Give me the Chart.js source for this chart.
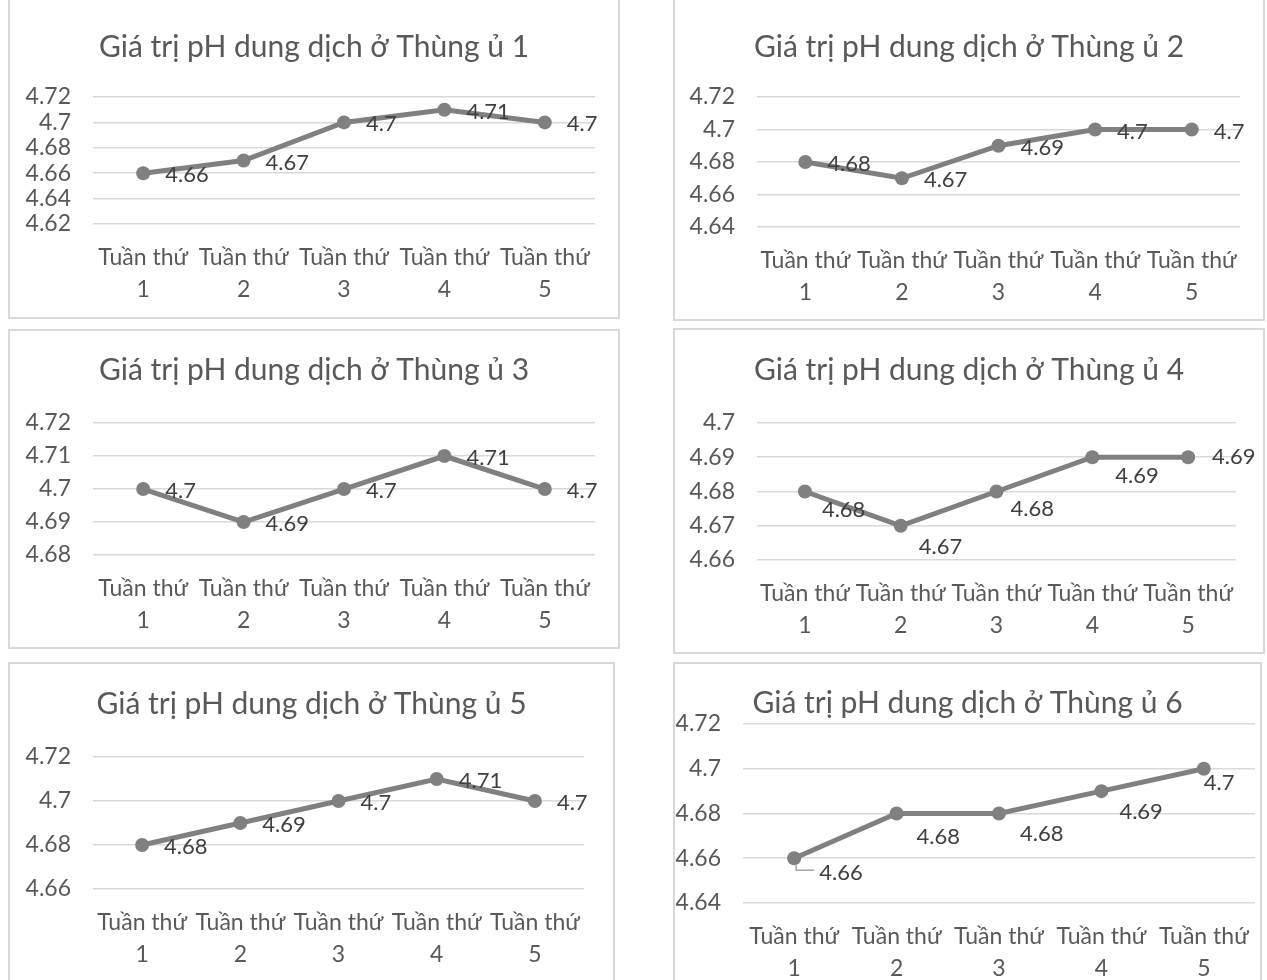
<!DOCTYPE html>
<html>
<head>
<meta charset="utf-8">
<script src="https://cdn.jsdelivr.net/npm/chart.js@4.4.1/dist/chart.umd.min.js"></script>
<style>
  html, body { margin: 0; padding: 0; background: #fff; }
  body { width: 1267px; height: 980px; position: relative; overflow: hidden; }
  .panel { position: absolute; }
  .frame { position: absolute; box-sizing: border-box; border: 2px solid #d9d9d9; pointer-events: none; }
</style>
</head>
<body>
<script>
// categories shared by all six charts
const weeks = [['Tuần thứ', '1'], ['Tuần thứ', '2'], ['Tuần thứ', '3'], ['Tuần thứ', '4'], ['Tuần thứ', '5']];

// chart titles
const titles = [
    'Giá trị pH dung dịch ở Thùng ủ 1',
    'Giá trị pH dung dịch ở Thùng ủ 2',
    'Giá trị pH dung dịch ở Thùng ủ 3',
    'Giá trị pH dung dịch ở Thùng ủ 4',
    'Giá trị pH dung dịch ở Thùng ủ 5',
    'Giá trị pH dung dịch ở Thùng ủ 6'
];

// pH values per bin
const ph1 = [4.66, 4.67, 4.70, 4.71, 4.70];
const ph2 = [4.68, 4.67, 4.69, 4.70, 4.70];
const ph3 = [4.70, 4.69, 4.70, 4.71, 4.70];
const ph4 = [4.68, 4.67, 4.68, 4.69, 4.69];
const ph5 = [4.68, 4.69, 4.70, 4.71, 4.70];
const ph6 = [4.66, 4.68, 4.68, 4.69, 4.70];

// y axis tick values per chart
const yTicks1 = [4.62, 4.64, 4.66, 4.68, 4.70, 4.72];
const yTicks2 = [4.64, 4.66, 4.68, 4.70, 4.72];
const yTicks3 = [4.68, 4.69, 4.70, 4.71, 4.72];
const yTicks4 = [4.66, 4.67, 4.68, 4.69, 4.70];
const yTicks5 = [4.66, 4.68, 4.70, 4.72];
const yTicks6 = [4.64, 4.66, 4.68, 4.70, 4.72];

// page layout of every panel: frame box, plot area, title centre line
const layouts = [
    { box: { l: 8, t: -20, r: 620, b: 319 }, area: { l: 93, r: 595, t: 97, b: 224 }, titleY: 47 },
    { box: { l: 673, t: -20, r: 1265, b: 321 }, area: { l: 757, r: 1240, t: 97, b: 227 }, titleY: 47 },
    { box: { l: 8, t: 329, r: 620, b: 649 }, area: { l: 93, r: 595, t: 423, b: 555 }, titleY: 370 },
    { box: { l: 673, t: 328, r: 1265, b: 654 }, area: { l: 757, r: 1236, t: 423, b: 560 }, titleY: 370 },
    { box: { l: 8, t: 662, r: 615, b: 1000 }, area: { l: 93, r: 584, t: 757, b: 889 }, titleY: 704 },
    { box: { l: 673, t: 662, r: 1262, b: 1000 }, area: { l: 743, r: 1260, t: 724, b: 903 }, titleY: 703 }
];

// where the value labels sit relative to their points
const defaultOffset = [22, 2];
const labelOffsets = [
    null,
    null,
    null,
    [[17, 18], [18, 21], [14, 17], [23, 19], [24, 0]],
    null,
    [[25, 15], [20, 23], [21, 20], [18, 21], [0, 14]]
];
const leaders = [null, null, null, null, null, [0]];

const FONT = 'Lato, "Open Sans", sans-serif';
const TEXT = '#595959';

// draws the value next to each point, like Excel data labels
const valueLabels = {
    id: 'valueLabels',
    afterDatasetsDraw(chart, args, opts) {
        const ctx = chart.ctx;
        const meta = chart.getDatasetMeta(0);
        const values = chart.data.datasets[0].data;
        ctx.save();
        ctx.font = '22px ' + FONT;
        ctx.fillStyle = '#404040';
        ctx.textAlign = 'left';
        ctx.textBaseline = 'middle';
        meta.data.forEach((pt, i) => {
            const off = opts.offsets ? opts.offsets[i] : defaultOffset;
            const tx = pt.x + off[0];
            const ty = pt.y + off[1];
            if (opts.leaders && opts.leaders.includes(i)) {
                ctx.strokeStyle = '#a6a6a6';
                ctx.lineWidth = 1.5;
                ctx.beginPath();
                ctx.moveTo(pt.x + 2, pt.y + 6);
                ctx.lineTo(pt.x + 2, ty - 3);
                ctx.lineTo(tx - 5, ty - 3);
                ctx.stroke();
            }
            ctx.fillText(String(parseFloat(values[i].toFixed(2))), tx, ty);
        });
        ctx.restore();
    }
};

function makeChart(idx, values, ticks) {
    const lay = layouts[idx];
    const box = lay.box, area = lay.area;
    const w = box.r - box.l, h = box.b - box.t;

    const panel = document.createElement('div');
    panel.className = 'panel';
    panel.style.left = box.l + 'px';
    panel.style.top = box.t + 'px';
    panel.style.width = w + 'px';
    panel.style.height = h + 'px';
    const canvas = document.createElement('canvas');
    canvas.width = w;
    canvas.height = h;
    panel.appendChild(canvas);
    document.body.appendChild(panel);

    const frame = document.createElement('div');
    frame.className = 'frame';
    frame.style.left = box.l + 'px';
    frame.style.top = box.t + 'px';
    frame.style.width = w + 'px';
    frame.style.height = h + 'px';
    document.body.appendChild(frame);

    const titleSize = 30;
    const titleLine = 36;
    const topPad = lay.titleY - box.t - titleLine / 2;
    const titleGap = (area.t - box.t) - topPad - titleLine;

    new Chart(canvas, {
        type: 'line',
        data: {
            labels: weeks,
            datasets: [{
                data: values,
                borderColor: '#808080',
                backgroundColor: '#808080',
                borderWidth: 5,
                pointRadius: 7,
                pointHoverRadius: 7,
                pointBackgroundColor: '#808080',
                pointBorderWidth: 0,
                tension: 0
            }]
        },
        options: {
            responsive: false,
            animation: false,
            devicePixelRatio: 1,
            layout: { padding: { left: 0, top: topPad, right: 0, bottom: 0 } },
            plugins: {
                legend: { display: false },
                tooltip: { enabled: false },
                title: {
                    display: true,
                    text: titles[idx],
                    color: TEXT,
                    font: { family: FONT, size: titleSize, weight: 'normal', lineHeight: titleLine / titleSize },
                    padding: { top: 0, bottom: titleGap }
                },
                valueLabels: { offsets: labelOffsets[idx], leaders: leaders[idx] }
            },
            scales: {
                x: {
                    offset: true,
                    grid: { display: false, drawTicks: false },
                    border: { display: false },
                    ticks: {
                        color: TEXT,
                        font: { family: FONT, size: 23, lineHeight: 32 / 23 },
                        padding: 18,
                        maxRotation: 0,
                        autoSkip: false
                    },
                    afterFit(scale) {
                        scale.height = box.b - area.b;
                        scale.paddingLeft = 0;
                        scale.paddingRight = 0;
                    }
                },
                y: {
                    min: ticks[0],
                    max: ticks[ticks.length - 1],
                    grid: { color: '#d9d9d9', lineWidth: 1.5, drawTicks: false },
                    border: { display: false },
                    ticks: {
                        color: TEXT,
                        font: { family: FONT, size: 23 },
                        padding: 22,
                        autoSkip: false,
                        callback: v => String(parseFloat(v.toFixed(2)))
                    },
                    afterBuildTicks(scale) {
                        scale.ticks = ticks.map(v => ({ value: v }));
                    },
                    afterFit(scale) {
                        scale.width = area.l - box.l;
                        scale.paddingTop = 0;
                        scale.paddingBottom = 0;
                    }
                },
                // empty right-hand axis: reserves the gap right of the plot
                // so the full-width title stays centred on the frame
                gap: {
                    type: 'linear',
                    position: 'right',
                    grid: { display: false, drawTicks: false },
                    border: { display: false },
                    ticks: { display: false },
                    afterFit(scale) {
                        scale.width = box.r - area.r;
                        scale.paddingTop = 0;
                        scale.paddingBottom = 0;
                    }
                }
            }
        },
        plugins: [valueLabels]
    });
}

makeChart(0, ph1, yTicks1);
makeChart(1, ph2, yTicks2);
makeChart(2, ph3, yTicks3);
makeChart(3, ph4, yTicks4);
makeChart(4, ph5, yTicks5);
makeChart(5, ph6, yTicks6);
</script>
</body>
</html>
